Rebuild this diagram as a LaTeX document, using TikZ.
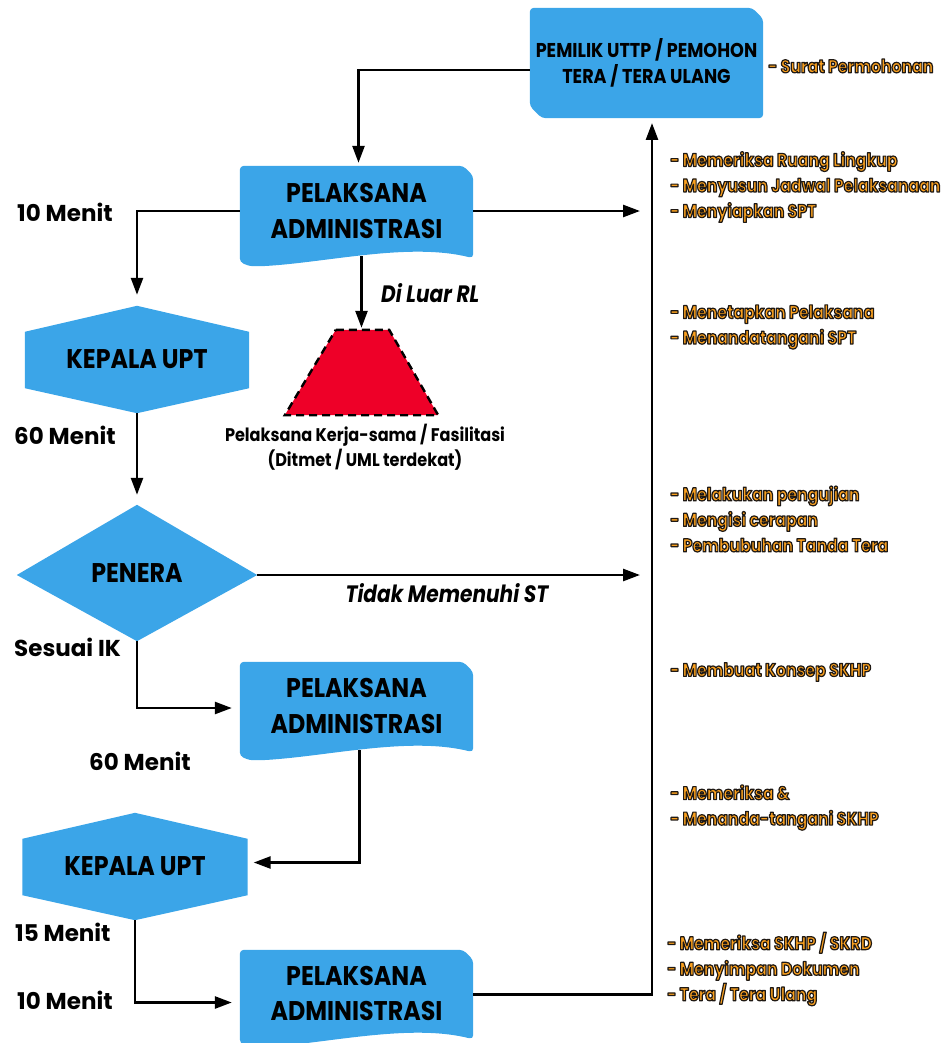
\documentclass[tikz,border=0pt]{standalone}
\usepackage{fontspec}
\usetikzlibrary{calc,backgrounds,arrows.meta}
\newfontfamily\fut{Poppins}[FakeStretch=0.88]
\newfontfamily\futw{Poppins}
\newfontfamily\futi{Poppins}[FakeStretch=0.85]
\definecolor{blu}{RGB}{59,165,232}
\definecolor{redc}{RGB}{238,0,40}
\definecolor{orng}{RGB}{250,160,30}
\newcommand{\oc}[1]{\special{pdf:literal direct 2 Tr 1.2 w 0.12 0.1 0.08 RG 1 j}#1\special{pdf:literal direct 0 Tr}}
\tikzset{
  arr/.style={line width=2.6pt,-{Triangle[length=17pt,width=12pt]}},
  box/.style={inner sep=0pt,align=center,text=black,font=\fut\bfseries\fontsize{27}{35.5}\selectfont},
  hexbox/.style={inner sep=0pt,align=center,text=black,font=\fut\bfseries\fontsize{27}{35}\selectfont},
  lab/.style={inner sep=0pt,anchor=west,text=black,font=\futw\bfseries\fontsize{23}{26}\selectfont},
  ilab/.style={inner sep=0pt,text=black,font=\futi\bfseries\itshape\fontsize{23.7}{26}\selectfont},
  olab/.style={inner sep=0pt,anchor=west,align=left,text=orng,font=\futi\bfseries\fontsize{18.5}{25.5}\selectfont},
}
\begin{document}
\begin{tikzpicture}[x=1pt,y=-1pt]
\useasboundingbox (0,0) rectangle (946,1043);
% nodes
\node[box,minimum width=233,minimum height=110,font=\fut\bfseries\fontsize{20}{26}\selectfont] (top) at (646.5,63) {PEMILIK UTTP / PEMOHON\\TERA / TERA ULANG};
\node[box,minimum width=233,minimum height=90] (pa1) at (356.5,211) {PELAKSANA\\ADMINISTRASI};
\node[hexbox,minimum width=224,minimum height=107] (k1) at (137,359.5) {KEPALA UPT};
\node[inner sep=0pt,minimum width=153,minimum height=85] (trap) at (361.5,372.5) {};
\node[inner sep=0pt,align=center,font=\fut\bfseries\fontsize{18.3}{25}\selectfont] (cap) at (365,447) {Pelaksana Kerja-sama / Fasilitasi\\(Ditmet / UML terdekat)};
\node[hexbox,minimum width=240,minimum height=136] (pen) at (137,573) {PENERA};
\node[box,minimum width=233,minimum height=88] (pa2) at (356.5,706) {PELAKSANA\\ADMINISTRASI};
\node[hexbox,minimum width=225,minimum height=107] (k2) at (135,866.5) {KEPALA UPT};
\node[box,minimum width=233,minimum height=87] (pa3) at (356.5,993.5) {PELAKSANA\\ADMINISTRASI};
% background shapes
\begin{scope}[on background layer]
\fill[blu,rounded corners=4pt] (top.north west) -- ($(top.north east)+(-11,0)$) -- ($(top.north east)+(0,11)$) -- (top.south east) -- ($(top.south west)+(12,0)$) -- ($(top.south west)+(0,-12)$) -- cycle;
\foreach \n in {pa1,pa2,pa3}{
  \fill[blu,rounded corners=4pt] (\n.north west) -- ($(\n.north east)+(-10,0)$) -- ($(\n.north east)+(0,10)$) -- ($(\n.south east)+(0,2)$)
    .. controls ($(\n.south)+(53,-14)$) and ($(\n.south)+(-27,6)$) .. ($(\n.south west)+(22,10)$)
    .. controls ($(\n.south west)+(10,10)$) .. ($(\n.south west)+(0,6)$) -- cycle;
}
\foreach \n in {k1,k2}{
  \fill[blu] (\n.north) -- ($(\n.north east)+(0,26)$) -- ($(\n.south east)+(0,-25)$) -- (\n.south) -- ($(\n.south west)+(0,-25)$) -- ($(\n.north west)+(0,26)$) -- cycle;
}
\fill[blu] (pen.north) -- ($(pen.east)+(0,2)$) -- (pen.south) -- ($(pen.west)+(0,2)$) -- cycle;
\filldraw[fill=redc,draw=black,line width=2.4pt,dash pattern=on 8pt off 5pt] ($(trap.north west)+(51,0)$) -- ($(trap.north east)+(-49,0)$) -- (trap.south east) -- (trap.south west) -- cycle;
\end{scope}
% spine coordinates
\coordinate (vtop) at (652,123);
\coordinate (s1) at (652,211);
\coordinate (s2) at (652,575);
% connectors
\draw[arr] ([yshift=-7pt]top.west) -| ([xshift=2pt,yshift=3pt]pa1.north);
\draw[arr,shorten >=11pt] (pa1.west) -| (k1.north);
\draw[arr,shorten >=12pt] (pa1.east|-s1) -- (s1);
\draw[arr,shorten >=2pt] (trap.north|-pa1.south) -- (trap.north);
\draw[arr,shorten >=10pt] (k1.south) -- (pen.north);
\draw[arr,shorten >=12pt] (pen.east|-s2) -- (s2);
\draw[arr,shorten >=8pt] (pen.south) |- ([yshift=-2pt]pa2.west);
\draw[arr,shorten >=6pt] ([xshift=3pt]pa2.south) |- ([yshift=4pt]k2.east);
\draw[arr,shorten >=8pt] (k2.south) |- ([yshift=-9pt]pa3.west);
\draw[arr] ([yshift=-1pt]pa3.east) -| (vtop);
% black labels
\node[lab] (m1) at (17,212) {10 Menit};
\node[lab] (m2) at (14,435) {60 Menit};
\node[lab] (si) at (14,647) {Sesuai IK};
\node[lab] (m3) at (89,761) {60 Menit};
\node[lab] (m4) at (15,932) {15 Menit};
\node[lab] (m5) at (17,1000) {10 Menit};
\node[ilab,anchor=west] (dl) at (381,293) {Di Luar RL};
\node[ilab] (tm) at (447,593) {Tidak Memenuhi ST};
% orange labels
\node[olab] (o1) at (768,66) {\oc{- Surat Permohonan}};
\node[olab] (o2) at (670,187) {\oc{- Memeriksa Ruang Lingkup}\\\oc{- Menyusun Jadwal Pelaksanaan}\\\oc{- Menyiapkan SPT}};
\node[olab] (o3) at (670,327) {\oc{- Menetapkan Pelaksana}\\\oc{- Menandatangani SPT}};
\node[olab] (o4) at (670,519) {\oc{- Melakukan pengujian}\\\oc{- Mengisi cerapan}\\\oc{- Pembubuhan Tanda Tera}};
\node[olab] (o5) at (670,672) {\oc{- Membuat Konsep SKHP}};
\node[olab] (o6) at (670,807.5) {\oc{- Memeriksa \&}\\\oc{- Menanda-tangani SKHP}};
\node[olab] (o7) at (667,969) {\oc{- Memeriksa SKHP / SKRD}\\\oc{- Menyimpan Dokumen}\\\oc{- Tera / Tera Ulang}};
\end{tikzpicture}
\end{document}
